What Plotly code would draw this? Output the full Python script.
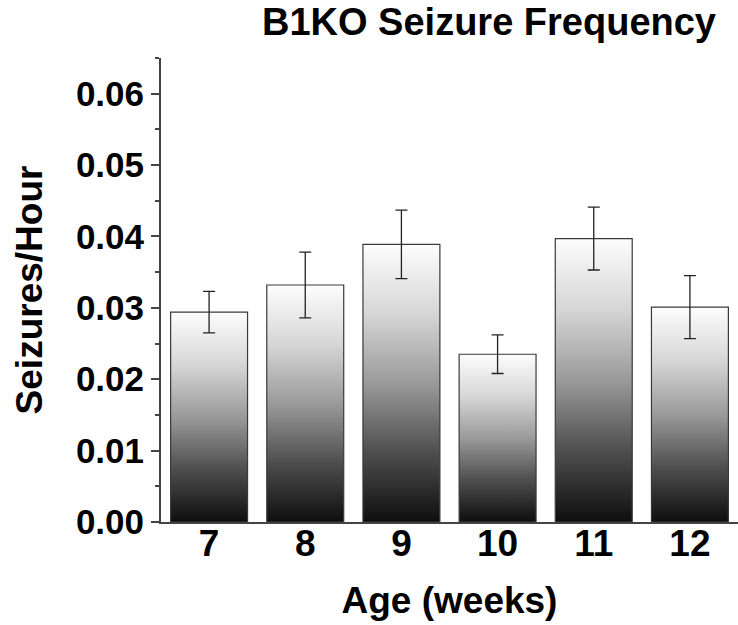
import plotly.graph_objects as go

ages = [7, 8, 9, 10, 11, 12]
tick_labels = ["7", "8", "9", "10", "11", "12"]
seizure_rate = [0.0294, 0.0332, 0.0389, 0.0235, 0.0397, 0.0301]
sem = [0.0029, 0.0046, 0.0048, 0.0027, 0.0044, 0.0044]
y_ticks = [0.00, 0.01, 0.02, 0.03, 0.04, 0.05, 0.06]

BAR_HALF = 0.4
FONT = "Arial, 'Liberation Sans', sans-serif"
gradient = [[0, "#0e0e0e"], [0.25, "#4e4e4e"], [0.5, "#9a9a9a"],
            [0.75, "#d6d6d6"], [1, "#fdfdfd"]]

fig = go.Figure()

for a, v in zip(ages, seizure_rate):
    fig.add_trace(go.Scatter(
        x=[a - BAR_HALF, a - BAR_HALF, a + BAR_HALF, a + BAR_HALF, a - BAR_HALF],
        y=[0, v, v, 0, 0],
        mode="lines",
        fill="toself",
        fillgradient=dict(type="vertical", colorscale=gradient),
        line=dict(color="#3a3a3a", width=1.2),
        showlegend=False,
        hoverinfo="skip",
    ))

fig.add_trace(go.Scatter(
    x=ages, y=seizure_rate, mode="markers",
    marker=dict(size=1, opacity=0),
    error_y=dict(type="data", array=sem, visible=True,
                 color="#222222", thickness=1.3, width=6),
    showlegend=False,
))

fig.update_layout(
    width=738, height=625,
    margin=dict(l=161, r=0, t=58, b=103),
    paper_bgcolor="white", plot_bgcolor="white",
    font=dict(family=FONT, color="black", weight="bold"),
    title=dict(text="B1KO Seizure Frequency", x=489 / 738, xref="container",
               xanchor="center", y=0.986, yref="container", yanchor="top",
               font=dict(size=38, family=FONT, weight="bold", color="black")),
    xaxis=dict(
        range=[6.5, 12.5], tickvals=ages, ticktext=tick_labels,
        showgrid=False, zeroline=False, showline=True,
        linecolor="#444444", linewidth=2, ticks="",
        ticklabelstandoff=-12,
        tickfont=dict(size=37, family=FONT, weight="bold"),
        title=dict(text="Age (weeks)", font=dict(size=37, family=FONT, weight="bold"),
                   standoff=24),
    ),
    yaxis=dict(
        range=[0, 0.065], tickvals=y_ticks, tickformat=".2f",
        showgrid=False, zeroline=False, showline=True,
        linecolor="#444444", linewidth=2,
        ticks="outside", ticklen=8, tickwidth=2, tickcolor="#444444",
        minor=dict(ticks="outside", ticklen=4, tickwidth=1.5, tickcolor="#444444",
                   dtick=0.005, tick0=0),
        tickfont=dict(size=35, family=FONT, weight="bold"),
        title=dict(text="Seizures/Hour", font=dict(size=37, family=FONT, weight="bold"),
                   standoff=22),
    ),
)

fig.write_html("out.html")
